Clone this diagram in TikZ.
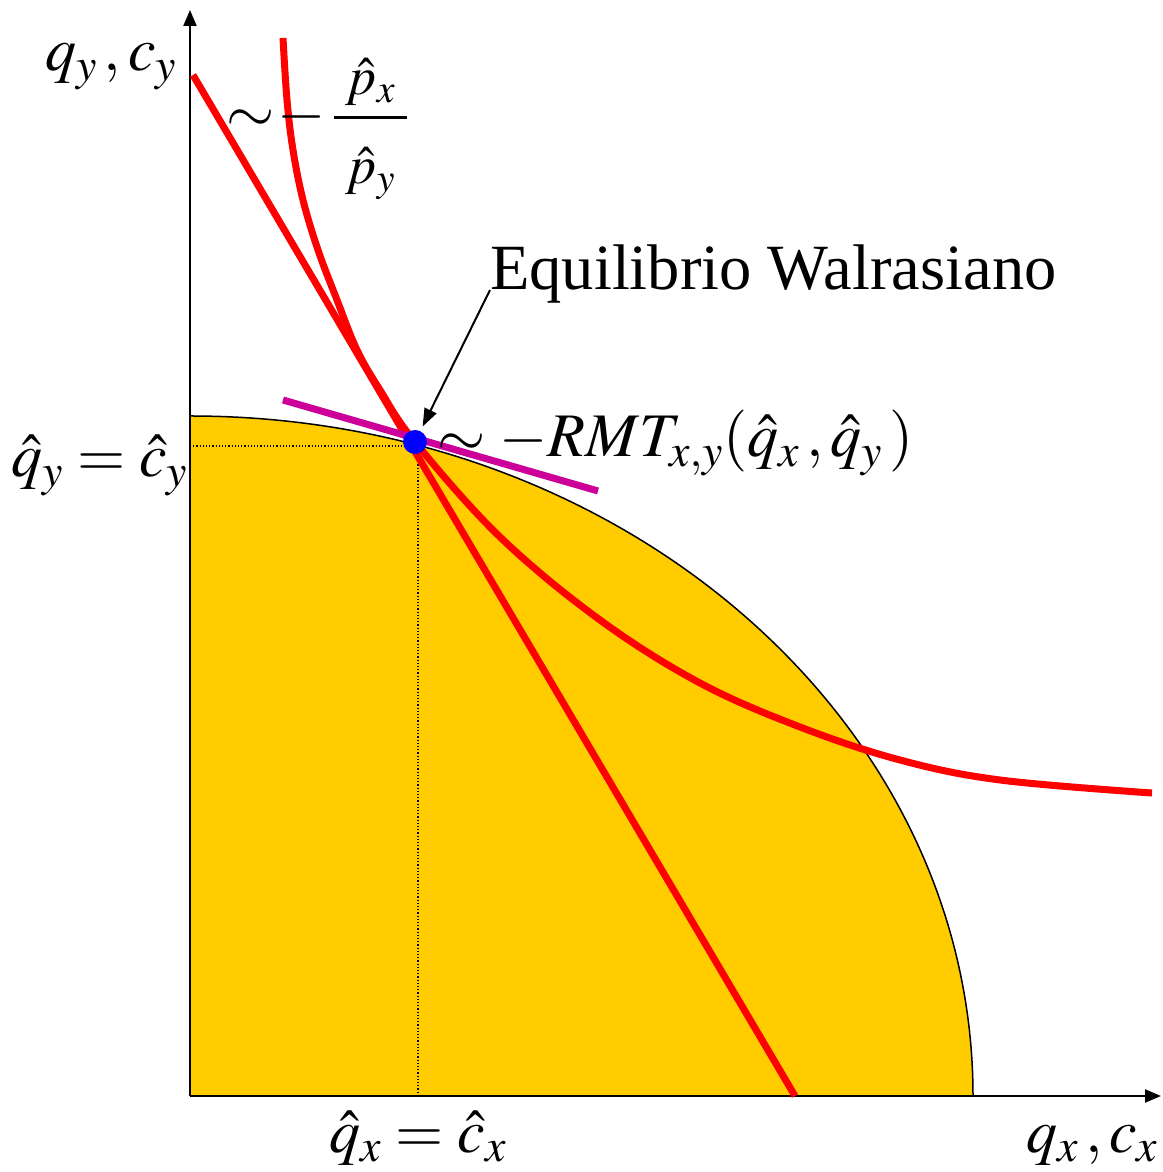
\documentclass[tikz,border=0pt]{standalone}
\usepackage{mathptmx}
\usepackage[no-math]{fontspec}
\setmainfont{Liberation Serif}
\usetikzlibrary{arrows.meta}
\definecolor{frontyellow}{RGB}{255,204,0}
\definecolor{tangmagenta}{RGB}{204,0,153}
\definecolor{eqblue}{RGB}{0,0,255}

\begin{document}
\begin{tikzpicture}[x=1pt,y=1pt,
          every node/.style={inner sep=0pt,font=\fontsize{62}{70}\selectfont},
          axisline/.style={line width=2pt,-{Triangle[length=16pt,width=13pt]}},
          redline/.style={red,line width=7pt},
          tangline/.style={tangmagenta,line width=7pt},
          guide/.style={dotted,line width=1.2pt}]
          \useasboundingbox (-190,-76) rectangle (972,1096);
          % production frontier
          \fill[frontyellow] (0,0) -- (0,680) arc[start angle=90,end angle=0,
            x radius=783,y radius=680] -- cycle;
          \draw[line width=1.5pt] (0,680) arc[start angle=90,end angle=0,
            x radius=783,y radius=680];
          % axes
          \draw[axisline] (0,0) -- (0,1086);
          \draw[axisline] (0,0) -- (971,0);
          % equilibrium and guides
          \coordinate (eqg) at (228,650);
          \draw[guide] (0,650) -- (eqg) -- (228,0);
          \draw[redline] (3,1021) -- (605,0);
          \draw[redline] plot[smooth,tension=0.6] coordinates {
            (93,1058) (97,996) (103,946) (113,896) (128,846) (147,796)
            (167,746) (190,706) (225,654) (310,559) (410,476) (510,413)
            (610,369) (710,336) (810,316) (962,303)};
          \draw[tangline] (93,696) -- (408,605);
          \node[circle,fill=eqblue,minimum size=24pt] (eq) at (225,654) {};
          % labels
          \node[anchor=base west] (lblqy) at (-145,1025)
            {$q_{y}\,,c_{y}$};
          \node[anchor=base west] (lblratio) at (36,963)
            {${\sim}$\hspace{3pt}${-}$\hspace{7pt}{\fontsize{54}{60}\selectfont\raisebox{2pt}{$\displaystyle
              \frac{\;\hat{p}_{x}\;}{\rule{0pt}{58pt}\hat{p}_{y}}$}}};
          \node[anchor=base west,font=\fontsize{64.5}{72}\selectfont] (lblwal)
            at (300,806) {Equilibrio Walrasiano};
          \node[anchor=base west] (lblrmt) at (247,639)
            {$\sim -RMT_{x,y}(\hat{q}_{x}\,,\hat{q}_{y}\,)$};
          \node[anchor=base east] (lblqyhat) at (-2,619)
            {$\hat{q}_{y}=\hat{c}_{y}$};
          \node[anchor=base] (lblqxhat) at (228,-56)
            {$\hat{q}_{x}=\hat{c}_{x}$};
          \node[anchor=base east] (lblqx) at (968,-56)
            {$q_{x}\,,c_{x}$};
          \draw[line width=2pt,-{Triangle[length=18pt,width=13pt]},
            shorten >=5pt] (lblwal.base west) -- (eq);
        \end{tikzpicture}
\end{document}
